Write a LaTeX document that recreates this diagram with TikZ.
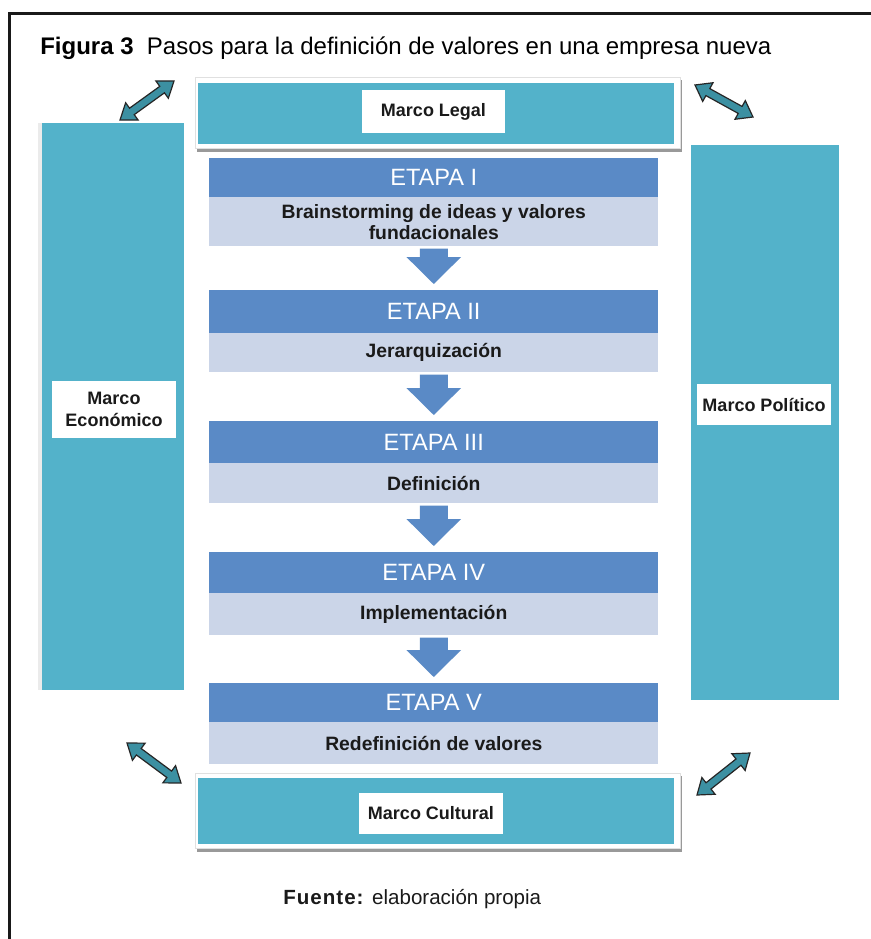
\documentclass[tikz,border=0pt]{standalone}
\usepackage{fontspec}
\setmainfont{Liberation Sans}
\usetikzlibrary{calc}
\definecolor{tealbox}{HTML}{53B2CA}
\definecolor{hdrblue}{HTML}{5A8AC6}
\definecolor{bodyblue}{HTML}{CBD5E8}
\definecolor{arrteal}{HTML}{3C90A2}
\definecolor{txtdark}{HTML}{1A1A1A}
\newcommand\dbarrow[2]{%
  \coordinate (dA) at #1; \coordinate (dB) at #2;
  \coordinate (dH1) at ($(dA)!11pt!(dB)$);
  \coordinate (dH2) at ($(dB)!11pt!(dA)$);
  \filldraw[dblarr] (dA) -- ($(dH1)!8pt!90:(dB)$) -- ($(dH1)!3pt!90:(dB)$)
    -- ($(dH2)!3pt!-90:(dA)$) -- ($(dH2)!8pt!-90:(dA)$) -- (dB)
    -- ($(dH2)!8pt!90:(dA)$) -- ($(dH2)!3pt!90:(dA)$)
    -- ($(dH1)!3pt!-90:(dB)$) -- ($(dH1)!8pt!-90:(dB)$) -- cycle;}
\begin{document}
\begin{tikzpicture}[x=0.75pt,y=-0.75pt,
  hdr/.style={fill=hdrblue, text=white, font=\fontsize{17.7}{20}\selectfont,
    minimum width={449*0.75pt}, inner sep=0pt, anchor=north west},
  bodyb/.style={fill=bodyblue, text=txtdark, font=\bfseries\fontsize{14.5}{16}\selectfont,
    minimum width={449*0.75pt}, inner sep=0pt, anchor=north west, align=center},
  tealb/.style={fill=tealbox, inner sep=0pt, anchor=north west},
  lbl/.style={fill=white, text=txtdark, font=\bfseries\fontsize{13.5}{16.5}\selectfont,
    inner sep=0pt, align=center},
  frameb/.style={fill=white, draw=black!12, line width=0.6pt},
  shadowb/.style={fill=black!40},
  dblarr/.style={fill=arrteal, draw=black!85, line width=0.9pt, line join=miter},
  downarr/.style={fill=hdrblue}
]
\useasboundingbox (0,0) rectangle (871,939);
\fill[white] (0,0) rectangle (871,939);
% outer frame
\draw[line width=2.25pt, black!90] (9,945) -- (9,13) -- (880,13);
% title
\node[anchor=base west, inner sep=0pt, text=black, font=\fontsize{18}{20}\selectfont] (title) at (40,54)
  {\textbf{Figura 3}\ \ Pasos para la definición de valores en una empresa nueva};
% side frames
\fill[black!8] (38,123) rectangle (42,690);
\node[tealb, minimum width={142*0.75pt}, minimum height={567*0.75pt}] (econ) at (42,123) {};
\node[tealb, minimum width={148*0.75pt}, minimum height={555*0.75pt}] (poli) at (691,145) {};
\node[lbl, minimum width={124*0.75pt}, minimum height={57*0.75pt}] (econlbl) at (114,409.5) {Marco\\Económico};
\node[lbl, minimum width={134*0.75pt}, minimum height={41*0.75pt}] (polilbl) at (764,404.5) {Marco Político};
% Marco Legal
\fill[shadowb] (197,80) rectangle (682,152);
\filldraw[frameb] (195,77) rectangle (680,148.5);
\node[tealb, minimum width={476*0.75pt}, minimum height={61*0.75pt}] (legal) at (198,83) {};
\node[lbl, minimum width={143*0.75pt}, minimum height={43*0.75pt}] (legallbl) at (433.5,111.5) {Marco Legal};
% Marco Cultural
\fill[shadowb] (197,776) rectangle (682,852);
\filldraw[frameb] (195,773) rectangle (680,848.5);
\node[tealb, minimum width={476*0.75pt}, minimum height={66*0.75pt}] (cult) at (198,778) {};
\node[lbl, minimum width={144*0.75pt}, minimum height={41*0.75pt}] (cultlbl) at (431,813.5) {Marco Cultural};
% Etapas
\node[hdr, minimum height={39*0.75pt}] (h1) at (209,158) {ETAPA I};
\node[bodyb, minimum height={49*0.75pt}] (b1) at (209,197) {Brainstorming de ideas y valores\\fundacionales};
\node[hdr, minimum height={43*0.75pt}] (h2) at (209,290) {ETAPA II};
\node[bodyb, minimum height={39*0.75pt}] (b2) at (209,333) {Jerarquización};
\node[hdr, minimum height={42*0.75pt}] (h3) at (209,421) {ETAPA III};
\node[bodyb, minimum height={40*0.75pt}] (b3) at (209,463) {Definición};
\node[hdr, minimum height={41*0.75pt}] (h4) at (209,552) {ETAPA IV};
\node[bodyb, minimum height={42*0.75pt}] (b4) at (209,593) {Implementación};
\node[hdr, minimum height={39*0.75pt}] (h5) at (209,683) {ETAPA V};
\node[bodyb, minimum height={42*0.75pt}] (b5) at (209,722) {Redefinición de valores};
% down arrows
\foreach \a/\b in {b1/h2, b2/h3, b3/h4, b4/h5}{
  \fill[downarr] let \p1=($(\a.south)+(0,2)$), \p2=($(\b.north)+(0,-6)$),
      \p3=($(\p2)+(0,-27)$) in
    (\x1-10.5pt,\y1) -- (\x1+10.5pt,\y1) -- (\x1+10.5pt,\y3) -- (\x1+20.5pt,\y3)
    -- (\x1,\y2) -- (\x1-20.5pt,\y3) -- (\x1-10.5pt,\y3) -- cycle;
}
% double arrows
\dbarrow{(120,120)}{(174,81)}
\dbarrow{(695,85)}{(753,117)}
\dbarrow{(127,743)}{(181,783)}
\dbarrow{(697,795)}{(750,753)}
% source
\node[anchor=base west, inner sep=0pt, text=txtdark, font=\fontsize{15.4}{18}\selectfont] (fuente) at (283,904)
  {{\addfontfeature{LetterSpace=5}\textbf{Fuente:}} elaboración propia};
\end{tikzpicture}
\end{document}
